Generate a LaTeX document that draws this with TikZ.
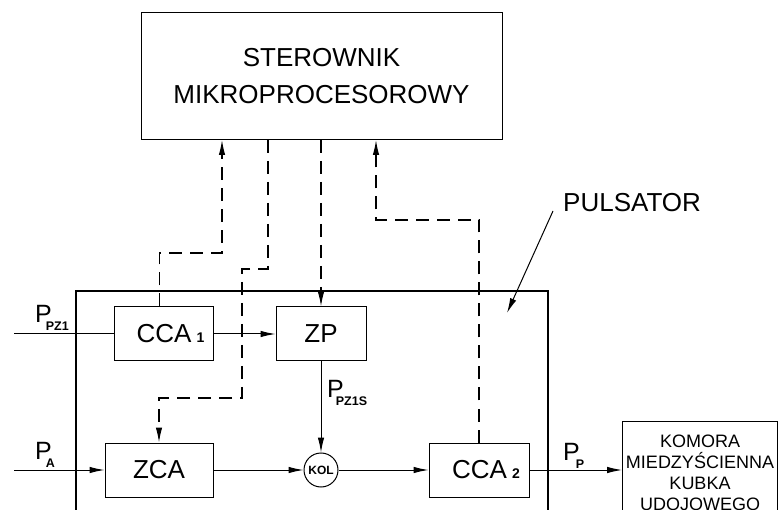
\documentclass[tikz,border=0pt]{standalone}
\usepackage{fontspec}
\setmainfont{Liberation Sans}
\usetikzlibrary{arrows.meta,positioning}

\newcommand{\Plab}[2][-6pt]{\fontsize{25}{30}\selectfont P\kern#1\raisebox{-8pt}{\fontsize{12.5}{14}\selectfont\bfseries #2}}
\newcommand{\ccaidx}[1]{\hspace*{14pt}CCA\kern5pt{\fontsize{14}{16}\selectfont\bfseries #1}}

\begin{document}
\begin{tikzpicture}[x=1pt, y=-1pt, >={Latex[length=15pt,width=6.5pt]},
	line/.style={line width=1pt},
	sig/.style={line width=1.2pt, dash pattern=on 13pt off 8pt},
	blk/.style={draw, line width=1pt, minimum height=54pt, inner sep=2pt, font=\fontsize{26}{30}\selectfont},
	lab/.style={anchor=base west, inner sep=0pt}]
	\useasboundingbox (0,0) rectangle (779,510);
	\clip (0,0) rectangle (779,510);
	% bloki
	\node[draw, line width=1pt, minimum width=361pt, minimum height=127pt, align=center, font=\fontsize{26}{37}\selectfont] (ster) at (321.5,76) {STEROWNIK\\MIKROPROCESOROWY};
	\node[draw, line width=2pt, minimum width=472pt, minimum height=260pt, anchor=north west] (puls) at (75,290) {};
	\node[blk, minimum width=99pt] (cca1) at (163.5,334) {\ccaidx{1}};
	\node[blk, minimum width=90pt] (zp) at (321,334) {ZP};
	\node[blk, minimum width=108pt] (zca) at (159,470) {ZCA};
	\node[draw, circle, line width=1pt, minimum size=34pt, inner sep=0pt, font=\fontsize{12}{14}\selectfont\bfseries] (kol) at (321,470) {KOL};
	\node[blk, minimum width=100pt] (cca2) at (479,470) {\ccaidx{2}};
	\node[draw, line width=1pt, anchor=north west, minimum width=155pt, inner xsep=2pt, inner ysep=13pt, align=center, font=\fontsize{18}{21}\selectfont] (kom) at (622,421) {KOMORA\\MIEDZYŚCIENNA\\KUBKA\\UDOJOWEGO};
	\node[anchor=base west, inner sep=0pt, font=\fontsize{26}{30}\selectfont] (plab) at (563,212) {PULSATOR};

	\coordinate (in1) at (14,334);
	\coordinate (in2) at (14,470);
	\coordinate (pfrom) at (553,211);
	\coordinate (ptip) at (507,313);
	\coordinate (c1) at (222,253);
	\coordinate (c2a) at (268,269);
	\coordinate (c2) at (242,269);
	\coordinate (c3) at (242,398);
	\coordinate (c4) at (376,220);

	% sygnaly
	\draw[sig,->] ([xshift=-4pt]cca1.north) |- (c1) -- (c1 |- ster.south);
	\draw[sig,->] (c2a |- ster.south) -- (c2a) -- (c2) -- (c3) -| (zca.north);
	\draw[sig,->] (zp.north |- ster.south) -- (zp.north);
	\draw[sig,->] (cca2.north) |- (c4) -- (c4 |- ster.south);

	% przeplyw
	\draw[line] (in1) -- (cca1.west);
	\draw[line,->] (cca1) -- (zp);
	\draw[line,->] (in2) -- (zca);
	\draw[line,->] (zca) -- (kol);
	\draw[line,->] (zp) -- (kol);
	\draw[line,->] (kol) -- (cca2);
	\draw[line,->] (cca2) -- (kom.west |- cca2);
	\draw[line,->] (pfrom) -- (ptip);

	\node[lab] (ppz1) at (35,323) {\Plab{PZ1}};
	\node[lab] (pa) at (35,459) {\Plab{A}};
	\node[lab] (ppz1s) at (327,398) {\Plab[-8pt]{PZ1S}};
	\node[lab] (pp) at (563,460) {\Plab[-4pt]{P}};
\end{tikzpicture}
\end{document}
